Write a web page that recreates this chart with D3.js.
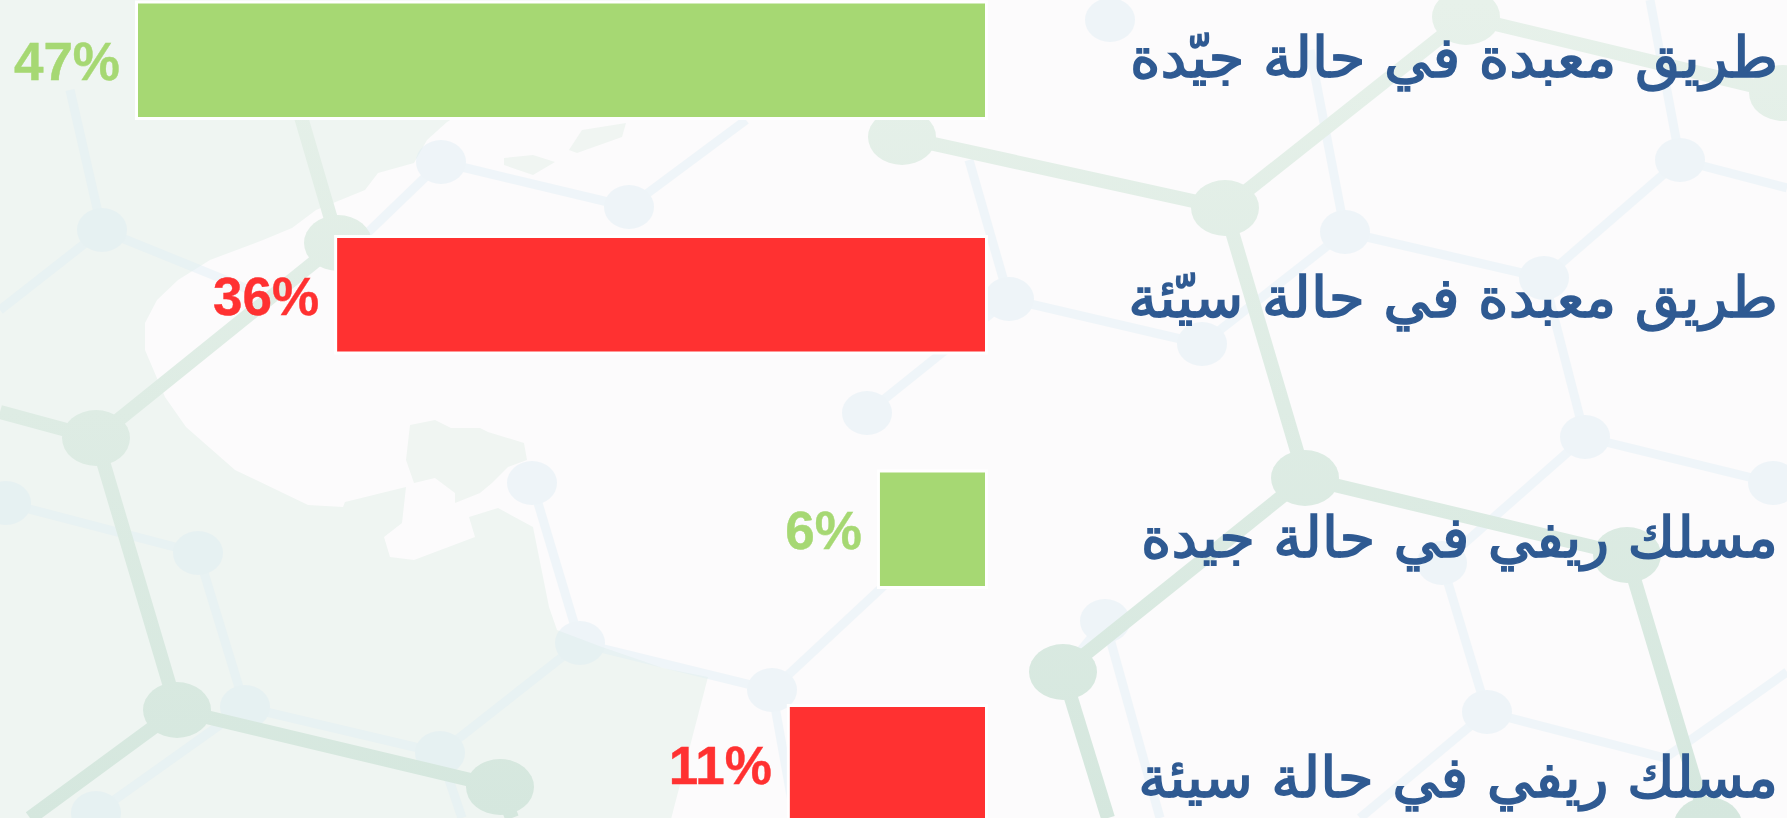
<!DOCTYPE html>
<html lang="ar"><head><meta charset="utf-8">
<script src="https://cdn.jsdelivr.net/npm/d3@7/dist/d3.min.js"></script>
<style>html,body{margin:0;padding:0;background:#fcfbfc;overflow:hidden}svg{display:block}</style>
</head><body><svg id="c" width="1787" height="818"></svg>
<script>
// ---- chart data ----
const categories = ["طريق معبدة في حالة جيّدة","طريق معبدة في حالة سيّئة","مسلك ريفي في حالة جيدة","مسلك ريفي في حالة سيئة"];
const printedValues = [47,36,6,11];
const barValues = [47,35.95,5.83,10.83];
const conditions = ["good","bad","good","bad"];
const labelFits = [648,650,637,640];

// ---- decorative backdrop geometry (not data) ----
const landOutline = [[-5,-5],[660,-5],[447,122],[427,140],[414,163],[378,173],[365,190],[316,210],[292,228],[263,240],[210,260],[178,280],[157,300],[145,323],[145,350],[165,397],[186,427],[235,470],[308,505],[343,507],[345,502],[406,487],[402,523],[384,537],[390,557],[414,560],[475,537],[469,517],[498,508],[533,527],[543,577],[549,607],[557,630],[602,647],[663,668],[708,677],[670,823],[-5,823]];
const islandShapes = [
 [[410,425],[435,420],[451,428],[480,428],[488,432],[524,443],[527,460],[508,467],[492,483],[480,493],[455,503],[455,493],[435,478],[414,483],[406,460]],
 [[569,150],[582,130],[626,123],[622,137],[577,153]],
 [[504,158],[533,155],[555,162],[533,175],[504,165]]
];
const strongNodes = [[96,438],[177,710],[500,787],[338,243],[902,137],[1225,208],[1305,478],[1627,555],[1063,672],[1466,17],[1783,93],[1708,825]];
const strongLinks = [[96,438,177,710],[177,710,500,787],[96,438,338,243],[338,243,296,100],[902,137,1225,208],[1225,208,1305,478],[1305,478,1627,555],[1225,208,1466,17],[1466,17,1783,93],[1305,478,1063,672],[1627,555,1708,825],[1063,672,1108,818],[177,710,30,818],[96,438,0,412],[500,787,512,818]];
const faintNodes = [[102,230],[441,162],[629,207],[6,503],[198,553],[532,483],[245,707],[440,753],[580,643],[772,690],[867,413],[96,813],[1009,299],[1202,344],[1345,232],[1544,278],[1680,160],[1585,437],[1773,483],[1487,712],[1105,621],[1442,563],[1110,20],[905,566]];
const faintLinks = [[70,90,102,230],[102,230,250,290],[102,230,0,310],[441,162,629,207],[441,162,360,240],[629,207,746,120],[6,503,198,553],[198,553,245,707],[245,707,440,753],[440,753,580,643],[580,643,532,483],[580,643,772,690],[772,690,905,566],[772,690,795,818],[867,413,1009,299],[245,707,96,813],[440,753,462,818],[1009,299,1202,344],[1009,299,969,160],[1202,344,1345,232],[1345,232,1544,278],[1345,232,1310,50],[1680,160,1544,278],[1680,160,1787,188],[1680,160,1650,0],[1544,278,1585,437],[1585,437,1773,483],[1585,437,1442,563],[1442,563,1487,712],[1487,712,1665,758],[1487,712,1360,818],[1665,758,1787,672],[1105,621,1160,818],[1105,621,1063,672]];

// ---- scales ----
const svg = d3.select("#c");
const x = d3.scaleLinear().domain([0,47]).range([985,138]);
const y = d3.scaleBand().domain(categories).range([3.5,3.5+3*234.5+113.5]).paddingInner(121/234.5).paddingOuter(0);
const yLabel = d3.scalePoint().domain(categories).range([77,797]);
const color = d3.scaleOrdinal().domain(["good","bad"]).range(["#a6d873","#ff3131"]);
const rows = categories.map((c,i)=>({c,v:barValues[i],p:printedValues[i],k:conditions[i],w:labelFits[i]}));

// ---- backdrop ----
const defs = svg.append("defs");
const grad = defs.append("linearGradient").attr("id","strong").attr("gradientUnits","userSpaceOnUse").attr("x1",0).attr("y1",0).attr("x2",0).attr("y2",818);
grad.append("stop").attr("offset",0).attr("stop-color","#e7f1ea");
grad.append("stop").attr("offset",1).attr("stop-color","#d5e7de");
const bg = svg.append("g");
bg.append("rect").attr("width",1787).attr("height",818).attr("fill","#fcfbfc");
const line = d3.line();
bg.append("path").attr("d",line(landOutline)+"Z").attr("fill","#eff5f2");
bg.selectAll(".isl").data(islandShapes).join("path").attr("d",d=>line(d)+"Z").attr("fill","#f0f5f2");
bg.append("g").attr("opacity",0.42).call(g=>{
  g.selectAll("line").data(faintLinks).join("line").attr("x1",d=>d[0]).attr("y1",d=>d[1]).attr("x2",d=>d[2]).attr("y2",d=>d[3]).attr("stroke","#dfeef5").attr("stroke-width",9);
  g.selectAll("ellipse").data(faintNodes).join("ellipse").attr("cx",d=>d[0]).attr("cy",d=>d[1]).attr("rx",25).attr("ry",22).attr("fill","#dcecf4");
});
bg.selectAll(".sl").data(strongLinks).join("line").attr("x1",d=>d[0]).attr("y1",d=>d[1]).attr("x2",d=>d[2]).attr("y2",d=>d[3]).attr("stroke","url(#strong)").attr("stroke-width",14);
bg.selectAll(".sn").data(strongNodes).join("ellipse").attr("cx",d=>d[0]).attr("cy",d=>d[1]).attr("rx",34).attr("ry",28).attr("fill","url(#strong)");

// ---- bars ----
svg.append("g").selectAll("rect").data(rows).join("rect")
  .attr("x",d=>x(d.v)).attr("y",d=>y(d.c))
  .attr("width",d=>x(0)-x(d.v)).attr("height",y.bandwidth())
  .attr("fill",d=>color(d.k)).attr("stroke","#fff").attr("stroke-width",6).attr("paint-order","stroke");

// ---- value labels ----
svg.append("g").selectAll("text").data(rows).join("text")
  .attr("x",d=>x(d.v)-18).attr("y",d=>y(d.c)+76.5)
  .attr("text-anchor","end").attr("fill",d=>color(d.k)).attr("stroke",d=>color(d.k)).attr("stroke-width",0.4)
  .attr("font-family","'Liberation Sans',Arial,sans-serif").attr("font-weight",700).attr("font-size",53)
  .text(d=>d.p+"%");

// ---- category labels ----
svg.append("g").selectAll("text").data(rows).join("text")
  .attr("text-anchor","end").attr("fill","#2f5a92").attr("stroke","#2f5a92").attr("stroke-width",1.6)
  .attr("font-family","'DejaVu Sans',sans-serif").attr("font-size",56)
  .text(d=>d.c)
  .attr("transform",function(d){return `translate(1778,${yLabel(d.c)}) scale(${d.w/this.getComputedTextLength()},1)`;});
</script></body></html>
